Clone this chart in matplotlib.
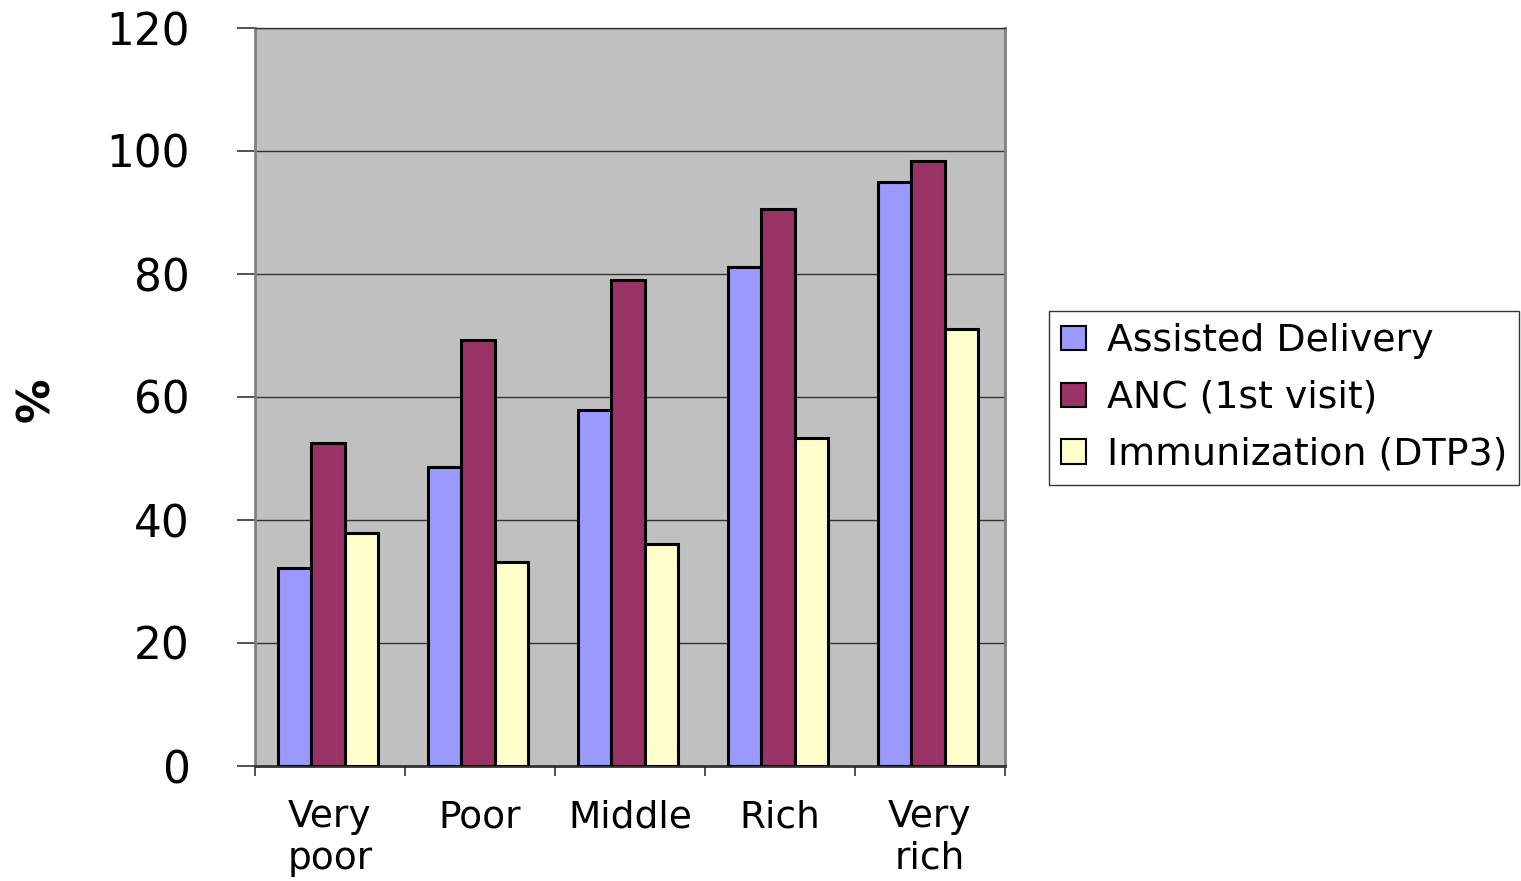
import matplotlib.pyplot as plt
import numpy as np

plt.rcParams['font.family'] = ['DejaVu Sans']

categories = ['Very\npoor', 'Poor', 'Middle', 'Rich', 'Very\nrich']
assisted = [32.2, 48.6, 57.9, 81.2, 94.9]
anc = [52.5, 69.3, 79.0, 90.5, 98.4]
immun = [37.9, 33.1, 36.1, 53.4, 71.0]
series_names = ['Assisted Delivery', 'ANC (1st visit)', 'Immunization (DTP3)']
colors = ['#9999FF', '#993366', '#FFFFCC']

fig = plt.figure(figsize=(15.21, 8.81), dpi=100)
ax = fig.add_axes([255/1521, 115/881, 750/1521, 738/881])
ax.set_facecolor('#C0C0C0')

x = np.arange(len(categories))
w = 0.222
for i, (vals, name, c) in enumerate(zip([assisted, anc, immun], series_names, colors)):
    ax.bar(x + (i - 1) * w - 0.013, vals, width=w, color=c, edgecolor='black',
           linewidth=2.2, label=name, zorder=3)

ax.set_xlim(-0.5, 4.5)
ax.set_ylim(0, 120)
ax.set_yticks(range(0, 121, 20))
ax.yaxis.grid(True, color='#333333', linewidth=1.0, zorder=1)
ax.set_axisbelow(True)

# category ticks between groups, labels centered
ax.set_xticks(np.arange(-0.5, 5, 1))
ax.set_xticklabels([])
ax.set_xticks(x, minor=True)
ax.set_xticklabels(categories, minor=True, fontsize=27, linespacing=1.2)
ax.tick_params(axis='x', which='minor', length=0, pad=24)
ax.tick_params(axis='x', which='major', length=7.5, width=1.2, color='#333333', direction='out')
ax.tick_params(axis='y', length=13, width=1.2, color='#333333', labelsize=31.5, pad=34)

for s in ax.spines.values():
    s.set_color('#808080')
    s.set_linewidth(2)
ax.spines['bottom'].set_color('#333333')
ax.spines['top'].set_color('#333333')
ax.spines['top'].set_linewidth(1)

fig.text(37/1521, 1 - 400/881, '%', rotation=90, fontsize=32, fontweight='bold',
         ha='center', va='center')

leg = ax.legend(loc='center left', bbox_to_anchor=(1049/1521, 1 - 398/881),
                bbox_transform=fig.transFigure, fontsize=27.3, frameon=True,
                fancybox=False, edgecolor='black', handlelength=0.65, handleheight=0.6,
                handletextpad=0.55, labelspacing=0.55, borderpad=0.32, borderaxespad=0)
leg.get_frame().set_linewidth(1)
for h in leg.legend_handles:
    h.set_linewidth(1.5)

fig.savefig('out.png', dpi=100)
